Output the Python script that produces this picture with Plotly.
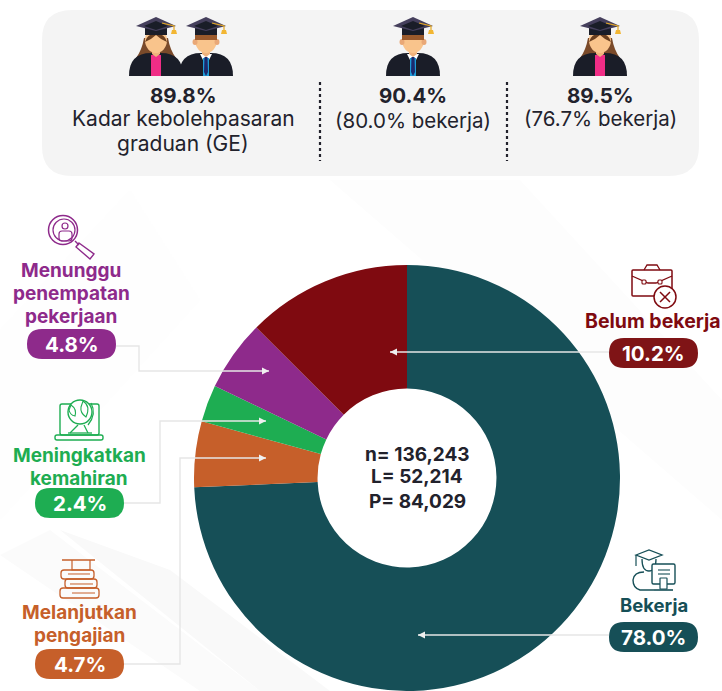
import math
import plotly.graph_objects as go

# Values as labelled
categories = ["Bekerja", "Melanjutkan pengajian", "Meningkatkan kemahiran", "Menunggu penempatan pekerjaan", "Belum bekerja"]
labelled_pct = [78.0, 4.7, 2.4, 4.8, 10.2]
# Slice sizes as actually drawn in the picture (they differ from the printed labels)
drawn_share = [74.3, 5.0, 2.8, 5.4, 12.5]
slice_colors = ["#164F57", "#C65F2A", "#1EAD52", "#8E2A8B", "#7F0A10"]
center_lines = ["n= 136,243", "L= 52,214", "P= 84,029"]

W, H = 722, 691
FONT = "Inter"
DARK = "#22222c"
px = lambda x: x / W
py = lambda y: 1 - y / H
shapes, annos = [], []


def P(cmds):
    out = []
    for c in cmds:
        if isinstance(c, str):
            out.append(c)
        else:
            out.append(f"{px(c[0]):.5f},{py(c[1]):.5f}")
    return " ".join(out)


def path(cmds, fill=None, line=None, w=1.5, layer="above"):
    s = dict(type="path", xref="paper", yref="paper", path=P(cmds), layer=layer,
             line=dict(color=line or "rgba(0,0,0,0)", width=w if line else 0))
    if fill:
        s["fillcolor"] = fill
    shapes.append(s)


def rrect(x0, y0, x1, y1, r, fill=None, line=None, w=1.5, layer="above"):
    path(["M", (x0 + r, y0), "L", (x1 - r, y0), "Q", (x1, y0), (x1, y0 + r), "L", (x1, y1 - r),
          "Q", (x1, y1), (x1 - r, y1), "L", (x0 + r, y1), "Q", (x0, y1), (x0, y1 - r),
          "L", (x0, y0 + r), "Q", (x0, y0), (x0 + r, y0), "Z"], fill, line, w, layer)


def ell(cx, cy, rx, ry, fill=None, line=None, w=1.5):
    shapes.append(dict(type="circle", xref="paper", yref="paper", layer="above",
                       x0=px(cx - rx), x1=px(cx + rx), y0=py(cy - ry), y1=py(cy + ry),
                       fillcolor=fill or "rgba(0,0,0,0)",
                       line=dict(color=line or "rgba(0,0,0,0)", width=w if line else 0)))


def poly(pts, line=None, fill=None, w=1.5, close=False, layer="above"):
    c = ["M", pts[0]]
    for p in pts[1:]:
        c += ["L", p]
    if close:
        c.append("Z")
    path(c, fill, line, w, layer)


def text(x, y, s, size, color=DARK, bold=False):
    annos.append(dict(x=px(x), y=py(y), xref="paper", yref="paper", text=f"<b>{s}</b>" if bold else s,
                      showarrow=False, xanchor="center", yanchor="middle",
                      font=dict(family=FONT, size=size, color=color)))


def person(cx, female):
    robe = "#1a1d28"
    if female:
        path(["M", (cx - 12, 38), "Q", (cx - 14, 50), (cx - 20, 58), "L", (cx + 20, 58),
              "Q", (cx + 14, 50), (cx + 12, 38), "Z"], "#7a4a2a")
    path(["M", (cx - 27, 76), "Q", (cx - 27, 53), (cx - 5, 53), "L", (cx + 5, 53),
          "Q", (cx + 27, 53), (cx + 27, 76), "Z"], robe)
    if female:
        poly([(cx - 5, 55), (cx + 5, 55), (cx + 5, 76), (cx - 5, 76)], fill="#F02D86", close=True)
    else:
        poly([(cx - 6, 54), (cx + 6, 54), (cx + 3, 60), (cx - 3, 60)], fill="#ffffff", close=True)
        poly([(cx - 3, 58), (cx + 3, 58), (cx + 3, 76), (cx - 3, 76)], fill="#1E9BD7", close=True)
        poly([(cx - 1.5, 57), (cx + 1.5, 57), (cx + 2, 72), (cx, 76), (cx - 2, 72)], fill="#1c2a6e", close=True)
    poly([(cx - 4, 44), (cx + 4, 44), (cx + 4, 54), (cx, 57), (cx - 4, 54)], fill="#f0b27c", close=True)
    ell(cx, 40, 11, 13, "#F9C48C")
    if female:
        path(["M", (cx - 11, 42), "Q", (cx - 9, 34), (cx, 33), "Q", (cx + 9, 34), (cx + 11, 42),
              "Q", (cx + 4, 39), (cx, 35), "Q", (cx - 4, 39), (cx - 11, 42), "Z"], "#6b3f1e")
    else:
        ell(cx - 11, 42, 2.5, 3, "#e9a877")
        ell(cx + 11, 42, 2.5, 3, "#e9a877")
        poly([(cx - 11, 33), (cx + 11, 33), (cx + 11, 40), (cx - 11, 40)], fill="#9b5a2c", close=True)
    poly([(cx - 11, 24), (cx + 11, 24), (cx + 11, 35), (cx - 11, 35)], fill=robe, close=True)
    poly([(cx - 20, 26), (cx, 17), (cx + 20, 26), (cx, 31)], fill="#453f5c", close=True)
    poly([(cx - 12, 26), (cx, 21), (cx + 12, 26), (cx, 30)], fill="#1a1d28", close=True)
    poly([(cx + 6, 23), (cx + 18, 26), (cx + 18, 30)], line="#E5A823", w=1.2)
    poly([(cx + 16, 30), (cx + 20, 30), (cx + 21, 34), (cx + 15, 34)], fill="#F2B632", close=True)


# Faint background bands
poly([(330, 180), (520, 180), (722, 400), (722, 520)], fill="#fdfdfd", close=True, layer="below")
poly([(0, 555), (50, 530), (260, 691), (200, 691)], fill="#fbfbfb", close=True, layer="below")
poly([(60, 530), (170, 570), (330, 691), (260, 691)], fill="#f9f9f9", close=True, layer="below")
poly([(0, 330), (130, 190), (200, 300), (0, 520)], fill="#fefefe", close=True, layer="below")

# Top panel
rrect(42, 10, 699, 176, 30, fill="#F4F4F4", layer="below")
for x in (320, 507):
    shapes.append(dict(type="line", xref="paper", yref="paper", layer="above", x0=px(x), x1=px(x), y0=py(82), y1=py(161),
                       line=dict(color="#22222c", width=2.2, dash="dot")))
person(156, True)
person(206, False)
person(413, False)
person(600, True)
text(183, 95, "89.8%", 20.5, DARK, True)
text(183, 119, "Kadar kebolehpasaran", 21)
text(183, 144, "graduan (GE)", 21)
text(413, 95, "90.4%", 20.5, DARK, True)
text(413, 120, "(80.0% bekerja)", 20.5)
text(600, 95, "89.5%", 20.5, DARK, True)
text(600, 118, "(76.7% bekerja)", 20.5)

# Connector lines
CONN = "#e6e6e6"
def conn(pts):
    poly(pts, line=CONN, w=1.4)
    (x1, y1), (x0, y0) = pts[-1], pts[-2]
    d = 1 if x1 > x0 else -1
    poly([(x1, y1), (x1 - 7 * d, y1 - 3.5), (x1 - 7 * d, y1 + 3.5)], fill="#f0f0f0", close=True)


conn([(116, 346), (139, 346), (139, 371), (269, 371)])
conn([(124, 503), (160, 503), (160, 421), (266, 421)])
conn([(124, 664), (180, 664), (180, 458), (266, 458)])
conn([(609, 352), (390, 352)])
conn([(609, 635), (418, 635)])

# Side labels and pills
def pill(x0, y0, s, color):
    rrect(x0, y0, x0 + 89, y0 + 30, 15, fill=color)
    text(x0 + 44.5, y0 + 15.5, s, 20.5, "#ffffff", True)


labels = [
    (654, [(605, "Bekerja")], 609, 622, 0, 18.5),
    (79, [(612, "Melanjutkan"), (635, "pengajian")], 35, 649, 1, 19),
    (79, [(455, "Meningkatkan"), (478, "kemahiran")], 35, 488, 2, 19),
    (71, [(270, "Menunggu"), (293, "penempatan"), (316, "pekerjaan")], 27, 329, 3, 19),
    (653, [(321, "Belum bekerja")], 609, 338, 4, 19.5),
]
for cx, rows, px0, py0, i, fs in labels:
    col = slice_colors[i]
    for y, s in rows:
        text(cx, y, s, fs, col, True)
    pill(px0, py0, f"{labelled_pct[i]:.1f}%", "#7F1416" if i == 4 else col)

# Icons
c = slice_colors[3]
ell(63, 230, 14.5, 14.5, None, c, 1.5)
ell(64, 230, 11, 11, None, c, 1.2)
ell(65, 226, 3, 3, None, c, 1.2)
rrect(59, 231, 72, 241, 3, None, c, 1.2)
poly([(75, 241), (79, 245)], line=c, w=1.4)
poly([(79, 243), (94, 254), (90, 259), (76, 247)], line=c, w=1.4, close=True)

c = slice_colors[2]
rrect(60, 404, 99, 435, 2, None, c, 1.4)
rrect(55, 435, 103, 440, 2, None, c, 1.4)
ell(80, 412, 12, 12, "#ffffff", c, 1.4)
path(["M", (71, 405), "Q", (77, 409), (75, 416), "Q", (70, 415), (69, 410), "Z"], None, c, 1.1)
path(["M", (83, 401), "Q", (91, 406), (86, 417), "Q", (80, 413), (81, 407), "Z"], None, c, 1.1)
path(["M", (91, 403), "Q", (97, 414), (88, 425)], None, c, 1.2)
poly([(78, 425), (70, 433)], line=c, w=1.2)
poly([(84, 425), (88, 433)], line=c, w=1.2)
poly([(68, 433), (92, 433)], line=c, w=1.3)

c = slice_colors[1]
poly([(62, 560), (95, 560)], line=c, w=1.4)
poly([(72, 560), (72, 570), (90, 570), (90, 560)], line=c, w=1.2)
rrect(61, 570, 94, 579, 3, None, c, 1.3)
rrect(65, 579, 97, 588, 3, None, c, 1.3)
rrect(60, 588, 99, 598, 3, None, c, 1.3)
poly([(68, 574), (90, 574)], line=c, w=1)
poly([(70, 584), (93, 584)], line=c, w=1)
poly([(72, 593), (95, 593)], line=c, w=1)

c = slice_colors[4]
rrect(632, 270, 672, 296, 1, None, c, 1.5)
poly([(632, 276), (648, 283), (656, 283), (672, 276)], line=c, w=1.3)
poly([(644, 270), (647, 265), (657, 265), (660, 270)], line=c, w=1.3)
rrect(642, 280, 646, 284, 1, "#ffffff", c, 1.1)
rrect(658, 280, 662, 284, 1, "#ffffff", c, 1.1)
ell(665, 297, 11, 11, "#ffffff", c, 1.5)
poly([(660, 292), (670, 302)], line=c, w=1.5)
poly([(670, 292), (660, 302)], line=c, w=1.5)

c = slice_colors[0]
poly([(636, 555), (649, 550), (662, 555), (649, 560)], line=c, w=1.3, close=True)
poly([(636, 555), (636, 566)], line=c, w=1.2)
path(["M", (642, 559), "Q", (642, 571), (649, 571), "Q", (656, 571), (656, 559)], None, c, 1.3)
path(["M", (654, 590), "L", (640, 590), "Q", (633, 588), (633, 580), "Q", (634, 572), (644, 572)], None, c, 1.4)
rrect(652, 564, 675, 584, 1.5, "#ffffff", c, 1.4)
poly([(658, 570), (670, 570)], line=c, w=1.1)
poly([(658, 574), (670, 574)], line=c, w=1.1)
rrect(660, 578, 667, 589, 0.5, "#ffffff", c, 1.2)
poly([(654, 590), (673, 590)], line=c, w=1.6)

# Centre text
for y, s in zip((454, 477, 501), center_lines):
    text(417, y, s, 19, DARK, True)

fig = go.Figure(go.Pie(
    labels=categories, values=drawn_share, sort=False, direction="clockwise", rotation=0,
    hole=0.42, marker=dict(colors=slice_colors, line=dict(width=0)),
    textinfo="none", hoverinfo="label", showlegend=False,
    domain=dict(x=[px(194), px(620)], y=[py(691), py(265)]),
))
fig.update_layout(width=W, height=H, margin=dict(l=0, r=0, t=0, b=0), paper_bgcolor="#ffffff",
                  shapes=shapes, annotations=annos, showlegend=False)
fig.write_html("out.html", config=dict(displayModeBar=False),
               post_script="document.body.style.margin='0';document.documentElement.style.overflow='hidden';")
